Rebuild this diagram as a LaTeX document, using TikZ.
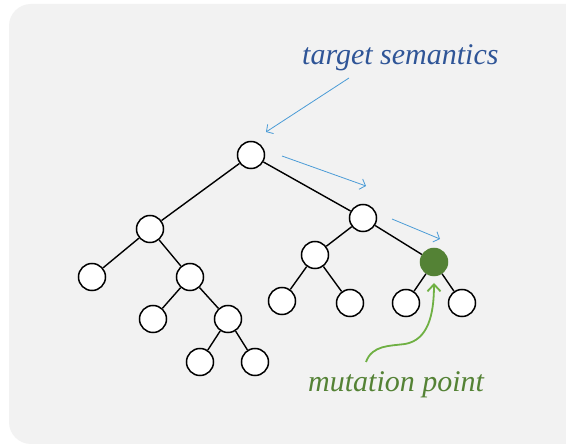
\documentclass[tikz,border=0pt]{standalone}
\usepackage{fontspec}
\setmainfont{Liberation Serif}
\usetikzlibrary{arrows.meta}
\definecolor{panel}{HTML}{F2F2F2}
\definecolor{labelblue}{HTML}{2F5597}
\definecolor{pathblue}{HTML}{4A9BD6}
\definecolor{labelgreen}{HTML}{548235}
\definecolor{pointgreen}{HTML}{6FB043}
\tikzset{
  vertex/.style={circle, draw=black, line width=1.5pt, fill=white,
                 minimum size=27pt, inner sep=0pt},
  mutated/.style={vertex, draw=labelgreen, fill=labelgreen},
  branch/.style={draw=black, line width=1.4pt},
  walk/.style={draw=pathblue, line width=0.8pt,
               -{Straight Barb[length=5pt,width=11pt]}},
  pointer/.style={draw=pointgreen, line width=1.8pt,
                  -{Straight Barb[length=7pt,width=13pt]}},
  caption/.style={font=\itshape\fontsize{30}{34}\selectfont, inner sep=0pt,
                  anchor=base west}
}
\begin{document}
\begin{tikzpicture}[x=1pt, y=-1pt]
  \useasboundingbox (0,0) rectangle (566,446);
  \fill[white] (0,0) rectangle (566,446);
  \fill[panel, rounded corners=22pt] (9,4) rectangle (590,444);

  % tree vertices
  \node[vertex]  (root) at (251,155) {};
  \node[vertex]  (l)    at (150,229) {};
  \node[vertex]  (r)    at (363,218) {};
  \node[vertex]  (ll)   at (92,277) {};
  \node[vertex]  (lr)   at (190,277) {};
  \node[vertex]  (lrl)  at (153,319) {};
  \node[vertex]  (lrr)  at (228,319) {};
  \node[vertex]  (lrrl) at (200,362) {};
  \node[vertex]  (lrrr) at (255,362) {};
  \node[vertex]  (rl)   at (315,255) {};
  \node[mutated] (rr)   at (434,262) {};
  \node[vertex]  (rll)  at (282,301) {};
  \node[vertex]  (rlr)  at (350,303) {};
  \node[vertex]  (rrl)  at (406,303) {};
  \node[vertex]  (rrr)  at (462,303) {};

  % tree edges
  \foreach \p/\c in {root/l, root/r, l/ll, l/lr, lr/lrl, lr/lrr,
                     lrr/lrrl, lrr/lrrr, r/rl, r/rr, rl/rll, rl/rlr,
                     rr/rrl, rr/rrr}
    \draw[branch] (\p) -- (\c);

  % labels
  \node[caption, text=labelblue]  (sem) at (302,65)  {target semantics};
  \node[caption, text=labelgreen] (mut) at (308,392) {mutation point};

  % walk from the root down to the mutation point
  \coordinate (w1s) at (349,78);  \coordinate (w1e) at (266,132);
  \coordinate (w2s) at (282,156); \coordinate (w2e) at (366,186);
  \coordinate (w3s) at (392,219); \coordinate (w3e) at (440,239);
  \draw[walk] (w1s) -- (w1e);
  \draw[walk] (w2s) -- (w2e);
  \draw[walk] (w3s) -- (w3e);

  % pointer to the mutated vertex
  \coordinate (ps) at (366,362);
  \coordinate (pm) at (405,344);
  \coordinate (pe) at (434,283);
  \draw[pointer] (ps) .. controls (372,345) and (390,346) .. (pm)
                      .. controls (428,340) and (434,315) .. (pe);
\end{tikzpicture}
\end{document}
